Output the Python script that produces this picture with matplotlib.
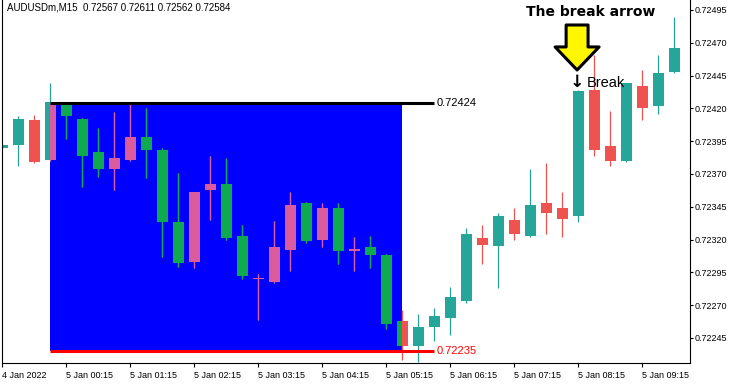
"""AUDUSDm M15 candles with a range box, its high/low lines and the break arrow."""

import matplotlib

matplotlib.use("Agg")
import matplotlib.pyplot as plt
import numpy as np
from matplotlib.patches import Rectangle
from matplotlib.transforms import offset_copy

plt.rcParams["font.family"] = ["Liberation Sans", "DejaVu Sans"]

# OHLC of the M15 bars, 4 Jan 23:15 .. 5 Jan 09:45
opens = [0.72390, 0.72392, 0.72411, 0.72381, 0.72423, 0.72412, 0.72387, 0.72374,
         0.72381, 0.72398, 0.72388, 0.72333, 0.72303, 0.72358, 0.72362, 0.72323,
         0.72290, 0.72288, 0.72312, 0.72348, 0.72320, 0.72344, 0.72311, 0.72314,
         0.72308, 0.72258, 0.72239, 0.72253, 0.72260, 0.72273, 0.72321, 0.72315,
         0.72335, 0.72323, 0.72348, 0.72344, 0.72338, 0.72434, 0.72391, 0.72380,
         0.72437, 0.72422, 0.72448]
highs = [0.72393, 0.72414, 0.72415, 0.72439, 0.72424, 0.72413, 0.72405, 0.72417,
         0.72423, 0.72420, 0.72390, 0.72371, 0.72356, 0.72384, 0.72382, 0.72331,
         0.72294, 0.72334, 0.72356, 0.72349, 0.72348, 0.72348, 0.72322, 0.72323,
         0.72309, 0.72266, 0.72263, 0.72268, 0.72284, 0.72329, 0.72331, 0.72340,
         0.72344, 0.72374, 0.72378, 0.72356, 0.72434, 0.72461, 0.72418, 0.72439,
         0.72449, 0.72461, 0.72490]
lows = [0.72389, 0.72376, 0.72378, 0.72380, 0.72397, 0.72360, 0.72368, 0.72358,
        0.72380, 0.72367, 0.72307, 0.72299, 0.72298, 0.72335, 0.72320, 0.72290,
        0.72259, 0.72287, 0.72296, 0.72317, 0.72314, 0.72301, 0.72296, 0.72298,
        0.72252, 0.72228, 0.72227, 0.72243, 0.72247, 0.72272, 0.72301, 0.72283,
        0.72320, 0.72322, 0.72324, 0.72322, 0.72333, 0.72384, 0.72376, 0.72379,
        0.72411, 0.72416, 0.72447]
closes = [0.72392, 0.72412, 0.72379, 0.72425, 0.72414, 0.72384, 0.72374, 0.72382,
          0.72398, 0.72388, 0.72333, 0.72302, 0.72356, 0.72362, 0.72321, 0.72292,
          0.72291, 0.72314, 0.72346, 0.72319, 0.72344, 0.72311, 0.72313, 0.72308,
          0.72256, 0.72239, 0.72253, 0.72262, 0.72276, 0.72324, 0.72316, 0.72338,
          0.72324, 0.72346, 0.72340, 0.72336, 0.72433, 0.72388, 0.72380, 0.72439,
          0.72420, 0.72447, 0.72466]

tick_labels = ["4 Jan 2022", "5 Jan 00:15", "5 Jan 01:15", "5 Jan 02:15",
               "5 Jan 03:15", "5 Jan 04:15", "5 Jan 05:15", "5 Jan 06:15",
               "5 Jan 07:15", "5 Jan 08:15", "5 Jan 09:15"]
price_ticks = [0.72245, 0.72270, 0.72295, 0.72320, 0.72345, 0.72370,
               0.72395, 0.72420, 0.72445, 0.72470, 0.72495]

range_high = 0.72424
range_low = 0.72235
range_start, range_end, line_end = 3, 25, 27   # bar indexes
break_bar = 36

UP, DOWN = "#26A69A", "#EF5350"
UP_INV, DOWN_INV = "#DA5B9E", "#0FAA4F"   # colours seen through the box


def draw_candles(ax, up, down, z, clip=None):
    x = np.arange(len(opens))
    o, h, l, c = (np.array(v) for v in (opens, highs, lows, closes))
    colors = np.where(c >= o, up, down)
    wicks = ax.vlines(x, l, h, colors=colors, lw=0.9, zorder=z)
    bars = ax.bar(x, np.abs(c - o), bottom=np.minimum(o, c), width=0.69,
                  color=colors, lw=0, zorder=z)
    if clip is not None:
        wicks.set_clip_path(clip)
        for b in bars:
            b.set_clip_path(clip)


fig = plt.figure(figsize=(7.39, 3.88), dpi=100)
ax = fig.add_axes([2 / 739, 25 / 388, 688 / 739, 363 / 388])
ax.set_xlim(-0.03, 42.97)
ax.set_ylim(0.722259, 0.725026)

box = Rectangle((range_start, range_low), range_end - range_start,
                range_high - range_low, fc="#0000FF", lw=0, zorder=1)
ax.add_patch(box)
draw_candles(ax, UP, DOWN, 2)
draw_candles(ax, UP_INV, DOWN_INV, 3, clip=box)

ax.hlines(range_high, range_start, line_end, color="black", lw=2.2, zorder=5)
ax.hlines(range_low, range_start, line_end, color="#FF0000", lw=2.2, zorder=5)
ax.annotate(f"{range_high:.5f}", (line_end, range_high), xytext=(1.5, 0),
            textcoords="offset points", va="center", fontsize=8, color="black")
ax.annotate(f"{range_low:.5f}", (line_end, range_low), xytext=(1.5, 0),
            textcoords="offset points", va="center", fontsize=8, color="#FF0000")

# break marker on the breakout bar
bh = highs[break_bar]
ax.annotate("\u2193", (break_bar, bh), xytext=(-0.8, 2.5), textcoords="offset points",
            ha="center", va="baseline", fontsize=12.5, fontweight="bold",
            family="DejaVu Sans", zorder=6)
ax.annotate("Break", (break_bar, bh), xytext=(6, 2.5), textcoords="offset points",
            ha="left", va="baseline", fontsize=10.5, zorder=6)
ax.annotate("", xy=(break_bar, bh),
            xycoords=offset_copy(ax.transData, fig=fig, x=-1, y=14.4, units="points"),
            xytext=(0, 32.4), textcoords="offset points",
            arrowprops=dict(arrowstyle="simple,head_length=16.6,head_width=31.7,tail_width=15.8",
                            mutation_scale=1, fc="#FFF700", ec="black", lw=2.2,
                            shrinkA=0, shrinkB=0), zorder=7)
ax.text(0.856, 0.986, "The break arrow", transform=ax.transAxes, ha="center",
        va="top", fontsize=10, fontweight="bold", family="DejaVu Sans")

fig.text(7 / 739, 1 - 2 / 388, "AUDUSDm,M15  0.72567 0.72611 0.72562 0.72584",
         va="top", fontsize=7)

# axes in the terminal's style
ax.spines["top"].set_visible(False)
for s in ("left", "right", "bottom"):
    ax.spines[s].set_linewidth(0.8)
ax.yaxis.tick_right()
ax.set_yticks(price_ticks)
ax.set_yticklabels([f"{p:.5f}" for p in price_ticks])
ax.set_xticks(np.arange(0, len(opens), 4))
ax.set_xticklabels(tick_labels)
for lbl in ax.get_xticklabels():
    lbl.set_ha("left")
ax.tick_params(axis="y", length=2.5, width=0.8, pad=1, labelsize=6.5)
ax.tick_params(axis="x", length=3, width=0.8, pad=2.5, labelsize=6.5)

fig.savefig("out.png", dpi=100)
plt.close(fig)
